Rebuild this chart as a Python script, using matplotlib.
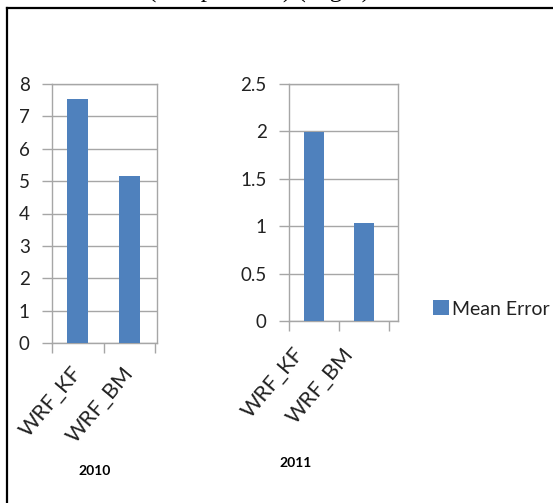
import numpy as np
import matplotlib.pyplot as plt
from matplotlib.lines import Line2D
from matplotlib.transforms import ScaledTranslation

# --- Data ---
models = ["WRF_KF", "WRF_BM"]
err_2010 = [7.53, 5.15]
err_2011 = [1.99, 1.03]
years = ["2010", "2011"]
ticks_2010 = [0, 1, 2, 3, 4, 5, 6, 7, 8]
ticks_2011 = [0, 0.5, 1, 1.5, 2, 2.5]

bar_col = "#4f81bd"
grid_col = "#a6a6a6"
font = ["Lato", "DejaVu Sans"]
plt.rcParams["font.family"] = font

W, H = 553, 503
fig = plt.figure(figsize=(W / 100, H / 100), dpi=100)


def px_axes(x0, y0, x1, y1):
    return fig.add_axes([x0 / W, 1 - y1 / H, (x1 - x0) / W, (y1 - y0) / H])


def style(ax, vals, yticks, xmax, label_shift, pad):
    x = np.arange(len(vals)) + 0.5
    ax.bar(x, vals, width=0.4, color=bar_col, zorder=3, label="Mean Error")
    ax.set_xlim(0, xmax)
    ax.set_ylim(0, yticks[-1])
    ax.set_yticks(yticks)
    ax.set_yticklabels([f"{t:g}" for t in yticks])
    ax.set_xticks(x)
    ax.set_xticklabels(models, rotation=50, ha="right", va="center",
                       rotation_mode="anchor")
    ax.set_xticks([0, 1, 2], minor=True)
    ax.tick_params(axis="x", which="major", length=0, pad=pad,
                   labelsize=15.5, labelcolor="#222222")
    ax.tick_params(axis="x", which="minor", length=7, width=1, color=grid_col)
    ax.tick_params(axis="y", length=7, width=1, color=grid_col, pad=9,
                   labelsize=13.5, labelcolor="#222222")
    ax.yaxis.grid(True, color=grid_col, linewidth=1, zorder=0)
    for s in ax.spines.values():
        s.set_color(grid_col)
        s.set_linewidth(1)
    if label_shift:
        off = ScaledTranslation(label_shift / 100, 0, fig.dpi_scale_trans)
        for lab in ax.get_xticklabels():
            lab.set_transform(lab.get_transform() + off)


ax1 = px_axes(52, 84, 157, 343)
style(ax1, err_2010, ticks_2010, 2 * 105 / 103, 0, 19)

ax2 = px_axes(289, 84, 398, 321)
style(ax2, err_2011, ticks_2011, 2 * 109 / 100, -14, 21)

# year captions under each chart
fig.text(95 / W, 1 - 471 / H, years[0], ha="center", va="center",
         fontsize=10, fontweight="bold", color="black")
fig.text(296 / W, 1 - 463 / H, years[1], ha="center", va="center",
         fontsize=10, fontweight="bold", color="black")

# legend
h, l = ax2.get_legend_handles_labels()
fig.legend(h, l, loc="center left", bbox_to_anchor=(433 / W, 1 - 309 / H),
           frameon=False, fontsize=14, handlelength=0.8, handleheight=0.8,
           handletextpad=0.2, borderpad=0, borderaxespad=0,
           labelcolor="#222222")

# page frame and the clipped caption above it
fig.add_artist(Line2D([7 / W, 7 / W], [0, 1 - 8 / H], color="black", lw=1.6))
fig.add_artist(Line2D([7 / W, 1], [1 - 8 / H, 1 - 8 / H], color="black", lw=1.6))
fig.text(148 / W, 1 + 2.5 / H, "(Temperature) (Right)", ha="left",
         va="baseline", fontsize=18, family="Liberation Serif")

fig.savefig("out.png", dpi=100)
